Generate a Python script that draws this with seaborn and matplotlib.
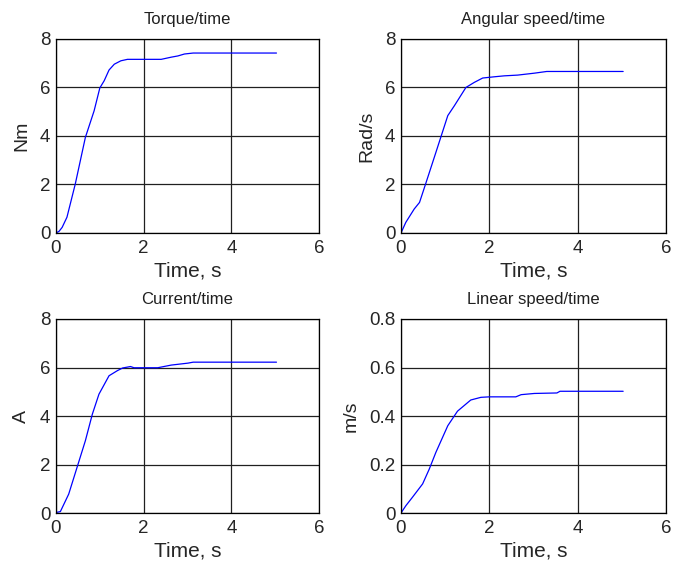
import numpy as np
import matplotlib
matplotlib.use('Agg')
import matplotlib.pyplot as plt
import pandas as pd
import seaborn as sns

# curves (time in s)
torque_t = [0, 0.07, 0.14, 0.25, 0.44, 0.67, 0.87, 1.0, 1.1, 1.21, 1.33, 1.48, 1.63,
            2.4, 2.63, 2.78, 2.93, 3.13, 5.03]
torque_y = [0, 0.07, 0.23, 0.65, 2.02, 3.94, 5.04, 5.98, 6.28, 6.72, 6.96, 7.1, 7.16,
            7.16, 7.25, 7.3, 7.38, 7.42, 7.42]

angular_t = [0, 0.11, 0.3, 0.42, 0.57, 0.79, 1.06, 1.21, 1.47, 1.66, 1.85, 2.11,
             2.34, 2.64, 3.02, 3.3, 5.03]
angular_y = [0, 0.44, 0.99, 1.26, 2.09, 3.32, 4.84, 5.25, 6.0, 6.21, 6.39, 6.44,
             6.48, 6.51, 6.59, 6.66, 6.66]

current_t = [0, 0.1, 0.29, 0.48, 0.67, 0.83, 0.98, 1.21, 1.4, 1.52, 1.7, 1.78,
             2.32, 2.63, 3.01, 3.13, 5.03]
current_y = [0.02, 0.06, 0.78, 1.88, 2.98, 4.08, 4.9, 5.66, 5.87, 5.98, 6.04, 5.99,
             5.99, 6.1, 6.18, 6.22, 6.22]

linear_t = [0, 0.11, 0.26, 0.49, 0.64, 0.79, 1.06, 1.28, 1.58, 1.81, 2.0, 2.6,
            2.72, 3.02, 3.53, 3.6, 5.03]
linear_y = [0, 0.03, 0.065, 0.12, 0.181, 0.25, 0.36, 0.42, 0.466, 0.477, 0.479, 0.479,
            0.488, 0.493, 0.495, 0.502, 0.502]

sns.set_style('white')
plt.rcParams['font.family'] = ['Liberation Sans', 'DejaVu Sans']

fig = plt.figure(figsize=(6.73, 5.64), dpi=100)

paineis = [
    ([0.0832, 0.5869, 0.3908, 0.344], torque_t, torque_y, 'Torque/time', 'Nm', 8),
    ([0.5958, 0.5869, 0.3938, 0.344], angular_t, angular_y, 'Angular speed/time', 'Rad/s', 8),
    ([0.0832, 0.0904, 0.3908, 0.344], current_t, current_y, 'Current/time', 'A', 8),
    ([0.5958, 0.0904, 0.3938, 0.344], linear_t, linear_y, 'Linear speed/time', 'm/s', 0.8),
]

for pos, t, y, titulo, unidade, ymax in paineis:
    ax = fig.add_axes(pos)
    df = pd.DataFrame({'t': t, 'y': y})
    sns.lineplot(data=df, x='t', y='y', ax=ax, color='#0000ff', linewidth=0.9,
                 estimator=None, sort=False)
    ax.set_xlim(0, 6)
    ax.set_ylim(0, ymax)
    ax.set_xticks([0, 2, 4, 6])
    if ymax == 8:
        ax.set_yticks([0, 2, 4, 6, 8])
        ax.set_yticklabels(['0', '2', '4', '6', '8'])
    else:
        ax.set_yticks([0, 0.2, 0.4, 0.6, 0.8])
        ax.set_yticklabels(['0', '0.2', '0.4', '0.6', '0.8'])
    ax.grid(True, color='#202020', linewidth=0.9)
    ax.tick_params(direction='in', length=3, labelsize=13.5)
    ax.tick_params(axis='x', pad=5)
    ax.tick_params(axis='y', pad=4)
    for s in ax.spines.values():
        s.set_color('black')
        s.set_linewidth(0.9)
    ax.set_title(titulo, fontsize=12, pad=11, color='#202020')
    ax.set_xlabel('Time, s', fontsize=15, labelpad=3)
    ax.set_ylabel(unidade, fontsize=14, labelpad=7)

fig.savefig('out.png', dpi=100)
